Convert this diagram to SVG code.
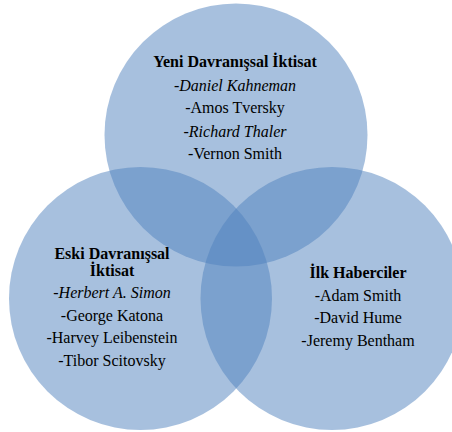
<svg xmlns="http://www.w3.org/2000/svg" width="452" height="432" viewBox="0 0 452 432">
<style>
.c{fill:#4F81BD;fill-opacity:0.5;}
text{font-family:"Liberation Serif","Times New Roman",serif;font-size:16px;fill:#000;text-anchor:middle;}
.b{font-weight:bold;}
.i{font-style:italic;}
</style>
<rect width="452" height="432" fill="#fff"/>
<g id="yeni">
<circle class="c" cx="236" cy="135" r="131.5"/>
<text class="b" x="235" y="67">Yeni Davranışsal İktisat</text>
<text x="235" y="91">-<tspan class="i">Daniel Kahneman</tspan></text>
<text x="235" y="113">-Amos Tversky</text>
<text x="235" y="137">-<tspan class="i">Richard Thaler</tspan></text>
<text x="235" y="159">-Vernon Smith</text>
</g>
<g id="eski">
<circle class="c" cx="140.5" cy="298.5" r="131.5"/>
<text class="b" x="112" y="259">Eski Davranışsal</text>
<text class="b" x="112" y="276">İktisat</text>
<text x="112" y="298">-<tspan class="i">Herbert A. Simon</tspan></text>
<text x="112" y="321">-George Katona</text>
<text x="112" y="343">-Harvey Leibenstein</text>
<text x="112" y="366">-Tibor Scitovsky</text>
</g>
<g id="ilk">
<circle class="c" cx="332" cy="298.5" r="131.5"/>
<text class="b" x="358" y="278">İlk Haberciler</text>
<text x="358" y="301">-Adam Smith</text>
<text x="358" y="323">-David Hume</text>
<text x="358" y="346">-Jeremy Bentham</text>
</g>
<g id="connectors"/>
</svg>
